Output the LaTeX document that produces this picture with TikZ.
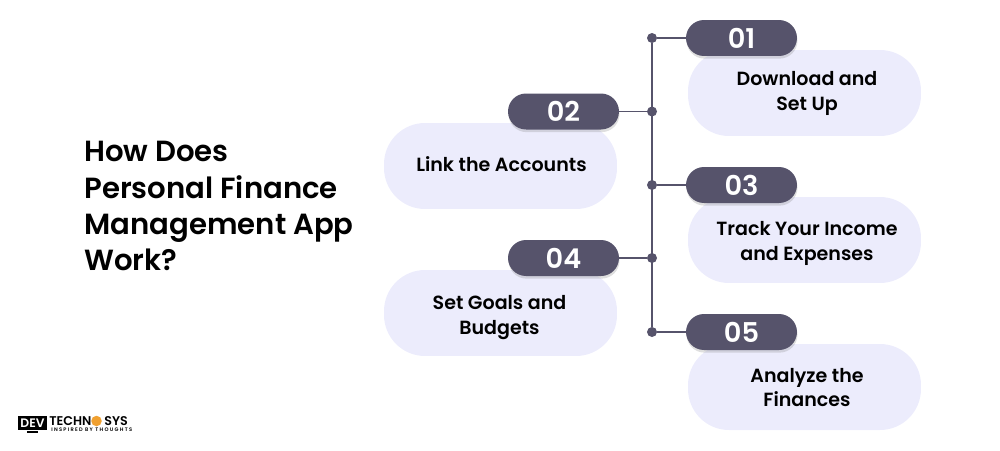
\documentclass[tikz,border=0pt]{standalone}
\usepackage{fontspec}
\setmainfont[BoldFont={Poppins SemiBold}]{Poppins}
\usetikzlibrary{shadows,positioning}
\definecolor{pilldark}{HTML}{56536B}
\definecolor{bodylav}{HTML}{ECECFC}
\definecolor{logoorange}{HTML}{F0A030}
\tikzset{
  bodybox/.style={fill=bodylav,rounded corners=.82cm,minimum width=4.66cm,minimum height=1.72cm,inner sep=0pt},
  bodytext/.style={inner sep=0pt,align=center,font=\fontsize{10.85pt}{14.2pt}\selectfont\bfseries},
  pill/.style={fill=pilldark,rounded corners=.36cm,minimum width=2.22cm,minimum height=.72cm,inner sep=0pt,
    text=white,font=\fontsize{15.5pt}{17pt}\selectfont\bfseries,
    drop shadow={shadow xshift=.3pt,shadow yshift=-1.5pt,opacity=.25}},
  dot/.style={fill=pilldark,circle,minimum size=.2cm,inner sep=0pt},
  wire/.style={draw=pilldark,line width=1.1pt}
}
\begin{document}
\begin{tikzpicture}
  [x=.02cm,y=-.02cm]
  \useasboundingbox (0,0) rectangle (1000,450);
  \node[anchor=north west,align=left,inner sep=0pt,font=\fontsize{16.6pt}{20.7pt}\selectfont\bfseries] (title) at (84,141)
    {How Does\\Personal Finance\\Management App\\Work?};
  % lilac boxes
  \node[bodybox] (b1) at (804.5,93) {};
  \node[bodybox] (b2) at (500.5,166) {};
  \node[bodybox] (b3) at (804.5,240) {};
  \node[bodybox] (b4) at (500.5,313) {};
  \node[bodybox] (b5) at (804.5,387) {};
  \node[bodytext] (t1) at (807,93.5) {Download and\\Set Up};
  \node[bodytext] (t2) at (501.5,164) {Link the Accounts};
  \node[bodytext] (t3) at (807,243.5) {Track Your Income\\and Expenses};
  \node[bodytext] (t4) at (499.5,317.5) {Set Goals and\\Budgets};
  \node[bodytext] (t5) at (807,387.5) {Analyze the\\Finances};
  % dots on the line
  \node[dot] (d1) at (652,38) {};
  \node[dot] (d2) at (652,111.5) {};
  \node[dot] (d3) at (652,185) {};
  \node[dot] (d4) at (652,258) {};
  \node[dot] (d5) at (652,332) {};
  \draw[wire] (d1) -- (d5);
  % number pills
  \node[pill] (p1) at (741.5,38) {01};
  \node[pill] (p2) at (563.5,111.5) {02};
  \node[pill] (p3) at (741.5,185) {03};
  \node[pill] (p4) at (563.5,258) {04};
  \node[pill] (p5) at (741.5,332) {05};
  \foreach \from/\to in {d1/p1,d2/p2,d3/p3,d4/p4,d5/p5}
    \draw[wire] (\from) -- (\to);
  % logo
  \node[fill=black,text=white,minimum width=.58cm,minimum height=.28cm,inner sep=0pt,font=\fontsize{7pt}{7pt}\selectfont\bfseries] (logobox) at (32.5,423) {DEV};
  \node[fill=black,minimum width=.24cm,minimum height=.04cm,inner sep=0pt,below=0pt of logobox] (logostand) {};
  \node[anchor=west,inner sep=0pt,font=\fontsize{7.2pt}{7pt}\selectfont\bfseries] (logotext) at (49,421) {TECHN};
  \node[fill=logoorange,circle,minimum size=.21cm,inner sep=0pt] (logodot) at (96.5,421) {};
  \node[anchor=west,inner sep=0pt,font=\fontsize{7.2pt}{7pt}\selectfont\bfseries] (logosys) at (104,421) {SYS};
  \node[anchor=west,inner sep=0pt,font=\fontsize{2.9pt}{3pt}\selectfont\bfseries\addfontfeature{LetterSpace=25}] (logotag) at (51,430) {INSPIRED BY THOUGHTS};
\end{tikzpicture}
\end{document}
